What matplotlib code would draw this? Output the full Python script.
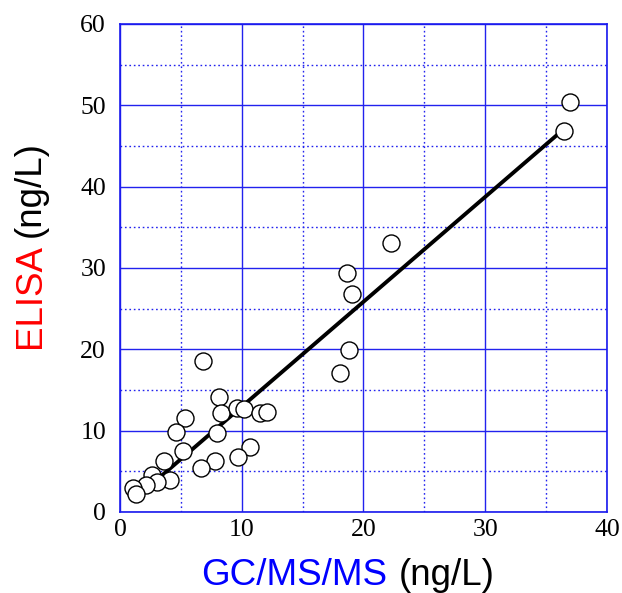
import matplotlib
matplotlib.use('Agg')
import numpy as np
from matplotlib import pyplot as plt

# GC/MS/MS vs ELISA (ng/L)
gcms = [36.96, 36.47, 22.26, 18.62, 19.08, 18.78, 18.04, 6.84, 8.11, 8.30,
        9.61, 10.18, 11.47, 12.07, 5.34, 4.57, 7.94, 5.17, 10.68, 9.69,
        7.83, 6.63, 3.64, 4.07, 2.60, 3.00, 2.14, 1.09, 1.29]
elisa = [50.35, 46.84, 33.11, 29.35, 26.80, 19.92, 17.05, 18.57, 14.10, 12.14,
         12.82, 12.66, 12.14, 12.26, 11.59, 9.87, 9.68, 7.54, 8.03, 6.80,
         6.31, 5.41, 6.27, 3.93, 4.55, 3.63, 3.34, 2.89, 2.27]

# regression line
slope, intercept = 1.29, 0.05
fit_range = [3.0, 36.1]

xticks = [0, 10, 20, 30, 40]
yticks = [0, 10, 20, 30, 40, 50, 60]

W, H = 622, 593
fig = plt.figure(figsize=(W / 100, H / 100), dpi=100)
ax = fig.add_axes([120 / W, 81 / H, 487 / W, 488 / H])

fx = np.array(fit_range)
ax.plot(fx, slope * fx + intercept, color='black', lw=2.8, zorder=3, solid_capstyle='butt')
ax.scatter(gcms, elisa, s=150, facecolor='white', edgecolor='black', linewidths=1.0, zorder=4)

ax.set_xlim(0, 40)
ax.set_ylim(0, 60)
ax.set_xticks(xticks)
ax.set_yticks(yticks)
ax.set_xticks(np.arange(5, 40, 10), minor=True)
ax.set_yticks(np.arange(5, 60, 10), minor=True)
ax.set_axisbelow(True)
ax.grid(which='major', color='#2222ee', lw=1.0, ls='-')
ax.grid(which='minor', color='#2222ee', lw=1.0, ls=(0, (1.2, 2.0)))
for sp in ax.spines.values():
    sp.set_color('#1a1aee')
    sp.set_linewidth(1.2)

ax.tick_params(which='both', length=0, labelsize=18.5, labelfontfamily='Liberation Serif')
ax.tick_params(axis='y', pad=10)
ax.tick_params(axis='x', pad=5)

# two-colour axis labels
lf = dict(family='Liberation Sans', fontsize=26.5)
fig.text(387 / W, (H - 585) / H, 'GC/MS/MS', color='blue', ha='right', va='baseline', **lf)
fig.text(399 / W, (H - 585) / H, '(ng/L)', color='black', ha='left', va='baseline', **lf)
fig.text(40 / W, (H - 348) / H, 'ELISA', color='red', ha='left', va='baseline',
         rotation=90, rotation_mode='anchor', **lf)
fig.text(40 / W, (H - 237) / H, '(ng/L)', color='black', ha='left', va='baseline',
         rotation=90, rotation_mode='anchor', **lf)

fig.savefig('out.png', dpi=100)
